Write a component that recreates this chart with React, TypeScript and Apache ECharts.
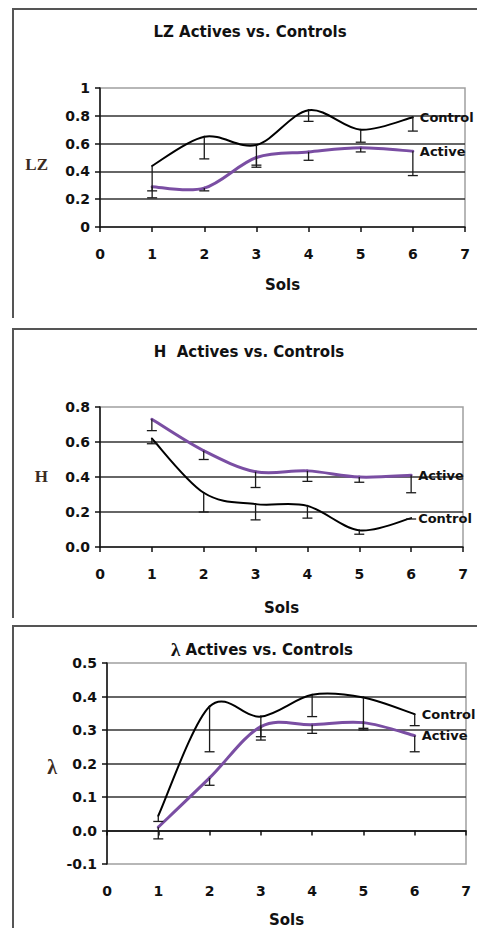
import React, { useEffect, useRef } from "react";
import * as echarts from "echarts";

// ---- data ----
const sols = [1, 2, 3, 4, 5, 6];
const xTicks = [0, 1, 2, 3, 4, 5, 6, 7];

const lzControl = [0.44, 0.65, 0.59, 0.84, 0.7, 0.79];
const lzControlLow = [0.21, 0.49, 0.43, 0.76, 0.61, 0.69];
const lzActive = [0.29, 0.28, 0.5, 0.54, 0.57, 0.545];
const lzActiveLow = [0.26, 0.26, 0.445, 0.48, 0.54, 0.37];

const hActive = [0.73, 0.55, 0.43, 0.435, 0.4, 0.41];
const hActiveLow = [0.665, 0.5, 0.34, 0.375, 0.37, 0.31];
const hControl = [0.62, 0.31, 0.245, 0.235, 0.095, 0.165];
const hControlLow = [0.59, 0.2, 0.155, 0.165, 0.073, 0.16];

const lControl = [0.044, 0.37, 0.34, 0.405, 0.397, 0.347];
const lControlLow = [0.027, 0.235, 0.28, 0.34, 0.305, 0.313];
const lActive = [0.01, 0.157, 0.31, 0.316, 0.322, 0.283];
const lActiveLow = [-0.025, 0.135, 0.27, 0.29, 0.3, 0.235];

const titles = ["LZ Actives vs. Controls", "H  Actives vs. Controls", "{l|λ} Actives vs. Controls"];
const yNames = ["LZ", "H", "λ"];
const seriesNames = ["Control", "Active"];

const SANS = "DejaVu Sans";
const SERIF = "Liberation Serif";
const PURPLE = "#7a4ea3";
const INK = "#111111";

const pts = (vals: number[]) => sols.map((s, i) => [s, vals[i]]);
const errs = (vals: number[], lows: number[]) => sols.map((s, i) => [s, vals[i], lows[i]]);

// Excel-like smoothed line (Catmull-Rom Bezier) drawn through the axis scales
function splineSeries(name: string, vals: number[], idx: number, color: string, width: number) {
  const n = sols.length;
  const cl = (k: number) => Math.max(0, Math.min(n - 1, k));
  return {
    type: "custom",
    name,
    xAxisIndex: idx,
    yAxisIndex: idx,
    data: pts(vals),
    encode: { x: 0, y: 1 },
    z: 3,
    renderItem: (params: any, api: any) => {
      const i = params.dataIndex;
      const P = (k: number) => api.coord([sols[cl(k)], vals[cl(k)]]);
      if (i >= n - 1) {
        const p = P(i);
        return {
          type: "text",
          x: p[0] + 7,
          y: p[1],
          style: {
            text: name,
            fontFamily: SANS,
            fontWeight: "bold",
            fontSize: 13,
            fill: INK,
            align: "left",
            verticalAlign: "middle",
          },
        };
      }
      const p0 = P(i - 1);
      const p1 = P(i);
      const p2 = P(i + 1);
      const p3 = P(i + 2);
      return {
        type: "bezierCurve",
        shape: {
          x1: p1[0],
          y1: p1[1],
          x2: p2[0],
          y2: p2[1],
          cpx1: p1[0] + (p2[0] - p0[0]) / 6,
          cpy1: p1[1] + (p2[1] - p0[1]) / 6,
          cpx2: p2[0] - (p3[0] - p1[0]) / 6,
          cpy2: p2[1] - (p3[1] - p1[1]) / 6,
        },
        style: { stroke: color, lineWidth: width, fill: "none", lineCap: "round" },
      };
    },
  };
}

function App() {
  const ref = useRef<HTMLDivElement>(null);
  useEffect(() => {
    if (!ref.current) return;
    const chart = echarts.init(ref.current, null, { renderer: "svg" });

    const grids = [
      { left: 100, top: 88, width: 365, height: 139 },
      { left: 100, top: 407, width: 363, height: 140 },
      { left: 107, top: 663, width: 359, height: 239 },
    ];
    const yRanges = [
      { min: 0, max: 1, interval: 0.2, fmt: (v: number) => String(Math.round(v * 10) / 10) },
      { min: 0, max: 0.8, interval: 0.2, fmt: (v: number) => v.toFixed(1) },
      { min: -0.1, max: 0.5, interval: 0.1, fmt: (v: number) => v.toFixed(1) },
    ];
    const nameGaps = [50, 53, 48];
    const titleCenters = [[250, 24], [249, 344], [262, 640]];
    const yNamePos = [[48, 164], [48, 476], [57, 767]];

    const textBold = { fontFamily: SANS, fontWeight: "bold" as const, color: INK };

    const errItem = (params: any, api: any) => {
      const x = api.value(0);
      const p1 = api.coord([x, api.value(1)]);
      const p2 = api.coord([x, api.value(2)]);
      const st = { stroke: "#1a1a1a", lineWidth: 1.3 };
      return {
        type: "group",
        children: [
          { type: "line", shape: { x1: p1[0], y1: p1[1], x2: p2[0], y2: p2[1] }, style: st },
          { type: "line", shape: { x1: p2[0] - 5, y1: p2[1], x2: p2[0] + 5, y2: p2[1] }, style: st },
        ],
      };
    };

    const panels = [
      { control: lzControl, controlLow: lzControlLow, active: lzActive, activeLow: lzActiveLow },
      { control: hControl, controlLow: hControlLow, active: hActive, activeLow: hActiveLow },
      { control: lControl, controlLow: lControlLow, active: lActive, activeLow: lActiveLow },
    ];

    const series: any[] = [];
    panels.forEach((p, i) => {
      series.push(splineSeries(seriesNames[0], p.control, i, "#000000", 2));
      series.push(splineSeries(seriesNames[1], p.active, i, PURPLE, 3));
      series.push({
        type: "custom",
        xAxisIndex: i,
        yAxisIndex: i,
        data: errs(p.control, p.controlLow),
        encode: { x: 0, y: [1, 2] },
        renderItem: errItem,
        z: 4,
      });
      series.push({
        type: "custom",
        xAxisIndex: i,
        yAxisIndex: i,
        data: errs(p.active, p.activeLow),
        encode: { x: 0, y: [1, 2] },
        renderItem: errItem,
        z: 4,
      });
    });

    chart.setOption({
      animation: false,
      backgroundColor: "#ffffff",
      title: titles.map((t, i) => ({
        text: t,
        left: titleCenters[i][0],
        top: titleCenters[i][1],
        textAlign: "center",
        padding: 0,
        textStyle: {
          ...textBold,
          fontSize: 15,
          rich: { l: { fontFamily: SERIF, fontWeight: "bold", fontSize: 19, color: INK } },
        },
      })),
      grid: grids.map((g) => ({
        ...g,
        show: true,
        backgroundColor: "#ffffff",
        borderColor: "#a0a0a0",
        borderWidth: 1.5,
      })),
      xAxis: grids.map((_, i) => ({
        type: "value",
        gridIndex: i,
        min: xTicks[0],
        max: xTicks[xTicks.length - 1],
        interval: 1,
        axisLine: { show: true, onZero: true, lineStyle: { color: INK, width: 1.5 } },
        axisTick: { show: true, length: 5, lineStyle: { color: INK, width: 1.5 } },
        axisLabel: { ...textBold, fontSize: 14, margin: 20 },
        splitLine: { show: false },
        name: "Sols",
        nameLocation: "middle",
        nameGap: nameGaps[i],
        nameTextStyle: { ...textBold, fontSize: 15 },
      })),
      yAxis: yRanges.map((r, i) => ({
        type: "value",
        gridIndex: i,
        min: r.min,
        max: r.max,
        interval: r.interval,
        axisLine: { show: true, lineStyle: { color: INK, width: 1.5 } },
        axisTick: { show: true, length: 5, lineStyle: { color: INK, width: 1.5 } },
        axisLabel: { ...textBold, fontSize: 14, margin: 10, formatter: r.fmt },
        splitLine: {
          show: true,
          showMinLine: false,
          showMaxLine: false,
          lineStyle: { color: "#333333", width: 1.6 },
        },
      })),
      graphic: [
        { type: "polyline", shape: { points: [[13, 318], [13, 9], [480, 9]] }, style: { stroke: "#555", lineWidth: 2, fill: "none" } },
        { type: "polyline", shape: { points: [[13, 618], [13, 329], [480, 329]] }, style: { stroke: "#555", lineWidth: 2, fill: "none" } },
        { type: "polyline", shape: { points: [[13, 930], [13, 626], [480, 626]] }, style: { stroke: "#555", lineWidth: 2, fill: "none" } },
        ...yNames.map((n, i) => ({
          type: "text",
          x: yNamePos[i][0],
          y: yNamePos[i][1],
          style: {
            text: n,
            fontFamily: SERIF,
            fontWeight: "bold",
            fontSize: i === 2 ? 20 : 17,
            fill: "#3b2b22",
            align: "right",
            verticalAlign: "middle",
          },
        })),
      ],
      series,
    });
    return () => chart.dispose();
  }, []);
  return (
    <div
      ref={ref}
      style={{ position: "absolute", left: 0, top: 0, width: 477, height: 928 }}
    />
  );
}

export default App;
